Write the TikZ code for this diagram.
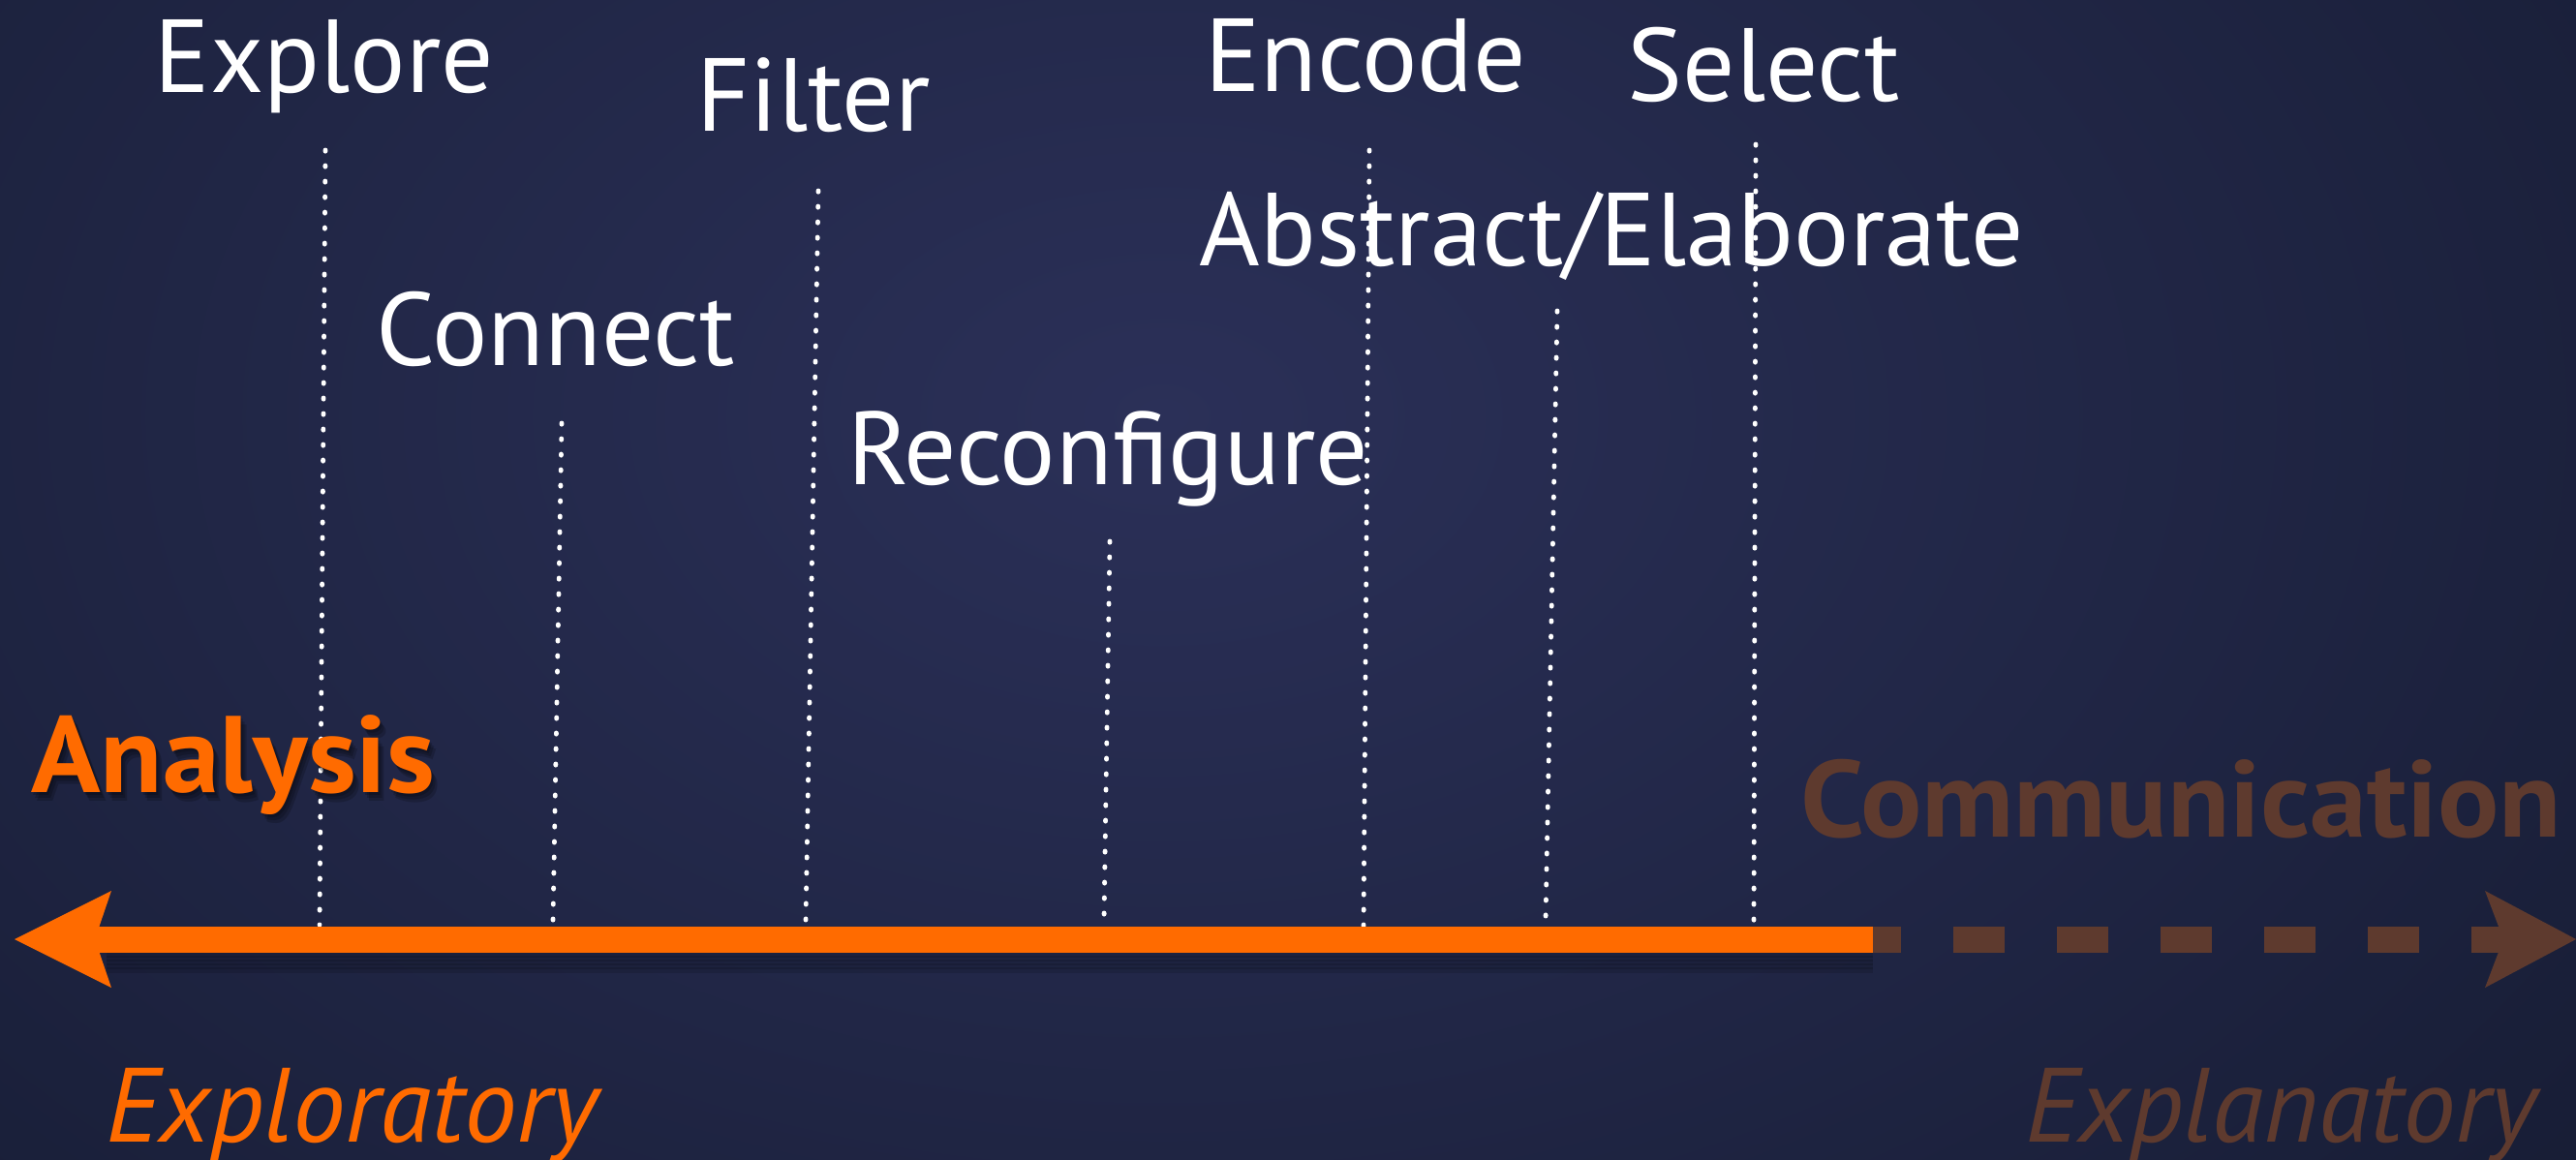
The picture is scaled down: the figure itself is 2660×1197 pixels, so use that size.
\documentclass[tikz,border=0pt]{standalone}
\usepackage{fontspec}
\setmainfont{PT Sans}
\usetikzlibrary{arrows.meta}

\definecolor{bgin}{HTML}{2B3058}
\definecolor{bgout}{HTML}{161C33}
\definecolor{axisorange}{HTML}{FF6B00}
\definecolor{axisbrown}{HTML}{5E3A2E}

\begin{document}
\begin{tikzpicture}[x=0.1mm,y=-0.1mm,
  tasklabel/.style={anchor=base, inner sep=0pt, text=white,
    font=\fontsize{30.5pt}{36pt}\selectfont},
  endlabel/.style={anchor=base, inner sep=0pt, xscale=1.05,
    font=\fontsize{32pt}{36pt}\selectfont\bfseries},
  modelabel/.style={anchor=base, inner sep=0pt,
    font=\fontsize{31pt}{36pt}\selectfont\itshape},
  guide/.style={white, line width=0.48mm, line cap=round,
    dash pattern=on 0.12mm off 1.48mm},
  axisline/.style={line width=2.7mm},
  barshadow/.style={black, line width=0.6mm, opacity=0.12}]

% background: dark navy with a soft radial glow
\useasboundingbox (0,0) rectangle (2660,1197);
\fill[bgout] (0,0) rectangle (2660,1197);
\begin{scope}
  \clip (0,0) rectangle (2660,1197);
  \shade[inner color=bgin, outer color=bgout] (1200,430) ellipse [x radius=2000, y radius=1350];
\end{scope}

% task labels
\node[tasklabel] (explore)     at (335,96)   {Explore};
\node[tasklabel] (filter)      at (840,135)  {Filter};
\node[tasklabel] (connect)     at (574,377)  {Connect};
\node[tasklabel] (reconfigure) at (1144,500) {Reconfigure};
\node[tasklabel] (encode)      at (1410,95)  {Encode};
\node[tasklabel] (select)      at (1821,105) {Select};
\node[tasklabel] (abstract)    at (1664,274) {Abstract/Elaborate};

% guide end points: below each label and on the axis
\coordinate (explore-top)     at (336,155);
\coordinate (explore-foot)    at (330,955);
\coordinate (connect-top)     at (580,437);
\coordinate (connect-foot)    at (571,952);
\coordinate (filter-top)      at (845,197);
\coordinate (filter-foot)     at (832,952);
\coordinate (reconfigure-top) at (1146,559);
\coordinate (reconfigure-foot)at (1140,950);
\coordinate (encode-top)      at (1414,155);
\coordinate (encode-foot)     at (1408,957);
\coordinate (abstract-top)    at (1608,321);
\coordinate (abstract-foot)   at (1596,950);
\coordinate (select-top)      at (1813,149);
\coordinate (select-foot)     at (1811,955);

\foreach \t in {explore,connect,filter,reconfigure,encode,abstract,select}
  \draw[guide] (\t-top) -- (\t-foot);

% axis end points
\coordinate (left-tip)    at (15,970);
\coordinate (orange-end)  at (1934,970);
\coordinate (dash-start)  at (1910,970);
\coordinate (right-tip)   at (2660,970);

% communication side: dashed brown arrow
\draw[axisbrown, axisline, dash pattern=on 5.3mm off 5.4mm,
  -{Stealth[length=9.4mm, width=10mm, inset=1.9mm, line width=0pt]}]
  (dash-start) -- (right-tip);

% soft shadow under the orange bar
\foreach \d in {16,20,24,28,32}
  \draw[barshadow] ([yshift=-\d*0.1mm]orange-end) -- ([xshift=9.5mm,yshift=-\d*0.1mm]left-tip);

% analysis side: solid orange arrow
\draw[axisorange, axisline,
  -{Stealth[length=10mm, width=10mm, inset=1.7mm, line width=0pt]}]
  (orange-end) -- (left-tip);

% end labels
\foreach \dx/\dy in {2/3,4/6,6/9}
  \node[endlabel, text=black, opacity=0.18] at (241+\dx,818+\dy) {Analysis};
\node[endlabel, text=axisorange] (analysis) at (241,818) {Analysis};
\node[endlabel, text=axisbrown] (communication) at (2252,864) {Communication};

\node[modelabel, text=axisorange] (exploratory) at (363,1179) {Exploratory};
\node[modelabel, text=axisbrown] (explanatory) at (2355,1179) {Explanatory};
\end{tikzpicture}
\end{document}
